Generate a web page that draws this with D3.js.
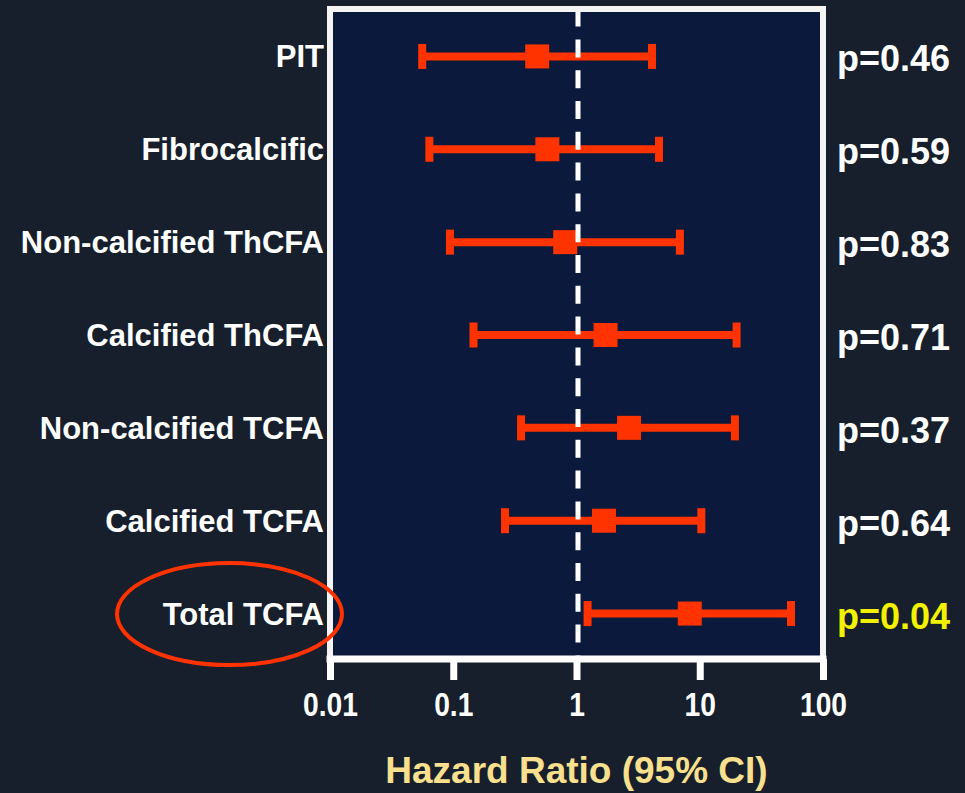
<!DOCTYPE html>
<html>
<head>
<meta charset="utf-8">
<script src="https://cdn.jsdelivr.net/npm/d3@7"></script>
<style>
  html, body { margin: 0; padding: 0; background: #161f2b; }
  svg { display: block; }
  text { font-family: "Liberation Sans", Arial, sans-serif; font-weight: bold; }
</style>
</head>
<body>
<svg id="chart" width="965" height="793"></svg>
<script>
// ---- data ----
const categories = ["PIT", "Fibrocalcific", "Non-calcified ThCFA", "Calcified ThCFA",
                    "Non-calcified TCFA", "Calcified TCFA", "Total TCFA"];
const hazardRatio = [0.48, 0.58, 0.81, 1.72, 2.67, 1.67, 8.3];
const ciLower     = [0.056, 0.064, 0.094, 0.146, 0.355, 0.263, 1.23];
const ciUpper     = [4.1, 4.67, 6.9, 19.9, 19.3, 10.3, 55];
const pValues     = ["p=0.46", "p=0.59", "p=0.83", "p=0.71", "p=0.37", "p=0.64", "p=0.04"];
const significant = [false, false, false, false, false, false, true];
const tickValues  = [0.01, 0.1, 1, 10, 100];
const tickLabels  = ["0.01", "0.1", "1", "10", "100"];
const axisTitle   = "Hazard Ratio (95% CI)";
const highlighted = "Total TCFA";

(function () {
const rows = categories.map((c, i) => ({
  cat: c, hr: hazardRatio[i], lo: ciLower[i], hi: ciUpper[i], p: pValues[i], sig: significant[i]
}));

const svg = d3.select("#chart");
const W = 965, H = 793;
const pL = 330, pR = 823, pT = 9, pB = 659;
const red = "#ff3300";

svg.append("rect").attr("width", W).attr("height", H).attr("fill", "#161f2b");

const x = d3.scaleLog().domain([0.01, 100]).range([pL, pR]);
const y = d3.scalePoint().domain(categories).range([10, 660]).padding(0.5);

// plot panel
svg.append("rect")
  .attr("x", pL).attr("y", pT)
  .attr("width", pR - pL).attr("height", pB - pT)
  .attr("fill", "#0b1a3c")
  .attr("stroke", "#f4f4f4").attr("stroke-width", 6);

// x axis
const axis = d3.axisBottom(x)
  .tickValues(tickValues)
  .tickFormat((d, i) => tickLabels[i])
  .tickSize(21)
  .tickSizeOuter(0);

const gx = svg.append("g").attr("transform", `translate(0,${pB})`).call(axis);
gx.select(".domain").attr("stroke", "#ffffff").attr("stroke-width", 7)
  .attr("d", `M${pL - 3.5},0H${pR + 3.5}`);
gx.selectAll(".tick line").attr("stroke", "#ffffff").attr("stroke-width", 7);
gx.selectAll(".tick text")
  .attr("fill", "#ffffff")
  .attr("font-size", 34)
  .attr("y", 57).attr("dy", 0)
  .attr("transform", "scale(0.83,1)");

// error bars
const bars = svg.append("g").selectAll("g.row").data(rows).join("g").attr("class", "row");
bars.append("line")
  .attr("x1", d => x(d.lo)).attr("x2", d => x(d.hi))
  .attr("y1", d => y(d.cat)).attr("y2", d => y(d.cat))
  .attr("stroke", red).attr("stroke-width", 8);
bars.append("rect")
  .attr("x", d => x(d.lo) - 4).attr("y", d => y(d.cat) - 12.5)
  .attr("width", 8).attr("height", 25).attr("fill", red);
bars.append("rect")
  .attr("x", d => x(d.hi) - 4).attr("y", d => y(d.cat) - 12.5)
  .attr("width", 8).attr("height", 25).attr("fill", red);
bars.append("rect")
  .attr("x", d => x(d.hr) - 12).attr("y", d => y(d.cat) - 12)
  .attr("width", 24).attr("height", 24).attr("fill", red);

// dashed reference line at HR = 1
svg.append("line")
  .attr("x1", x(1) + 1.5).attr("x2", x(1) + 1.5)
  .attr("y1", 8.6).attr("y2", 656)
  .attr("stroke", "#ffffff").attr("stroke-width", 5)
  .attr("stroke-dasharray", "18,12.8");

// redraw top frame edge above dashes
svg.append("line")
  .attr("x1", pL - 3).attr("x2", pR + 3)
  .attr("y1", pT).attr("y2", pT)
  .attr("stroke", "#f4f4f4").attr("stroke-width", 6);

// category labels
svg.append("g").selectAll("text").data(rows).join("text")
  .attr("x", 324).attr("y", d => y(d.cat) + 11)
  .attr("text-anchor", "end")
  .attr("font-size", 31)
  .attr("fill", "#ffffff")
  .text(d => d.cat);

// p values
svg.append("g").selectAll("text").data(rows).join("text")
  .attr("x", 837).attr("y", d => y(d.cat) + 15)
  .attr("font-size", 36)
  .attr("fill", d => d.sig ? "#f2f200" : "#ffffff")
  .text(d => d.p);

// highlight ellipse
svg.append("ellipse")
  .attr("cx", 229.5).attr("cy", y(highlighted) + 0.5)
  .attr("rx", 112.5).attr("ry", 51)
  .attr("fill", "none").attr("stroke", red).attr("stroke-width", 4);

// axis title
svg.append("text")
  .attr("x", (pL + pR) / 2).attr("y", 783)
  .attr("text-anchor", "middle")
  .attr("font-size", 37)
  .attr("fill", "#f8e08e")
  .text(axisTitle);
})();
</script>
</body>
</html>
